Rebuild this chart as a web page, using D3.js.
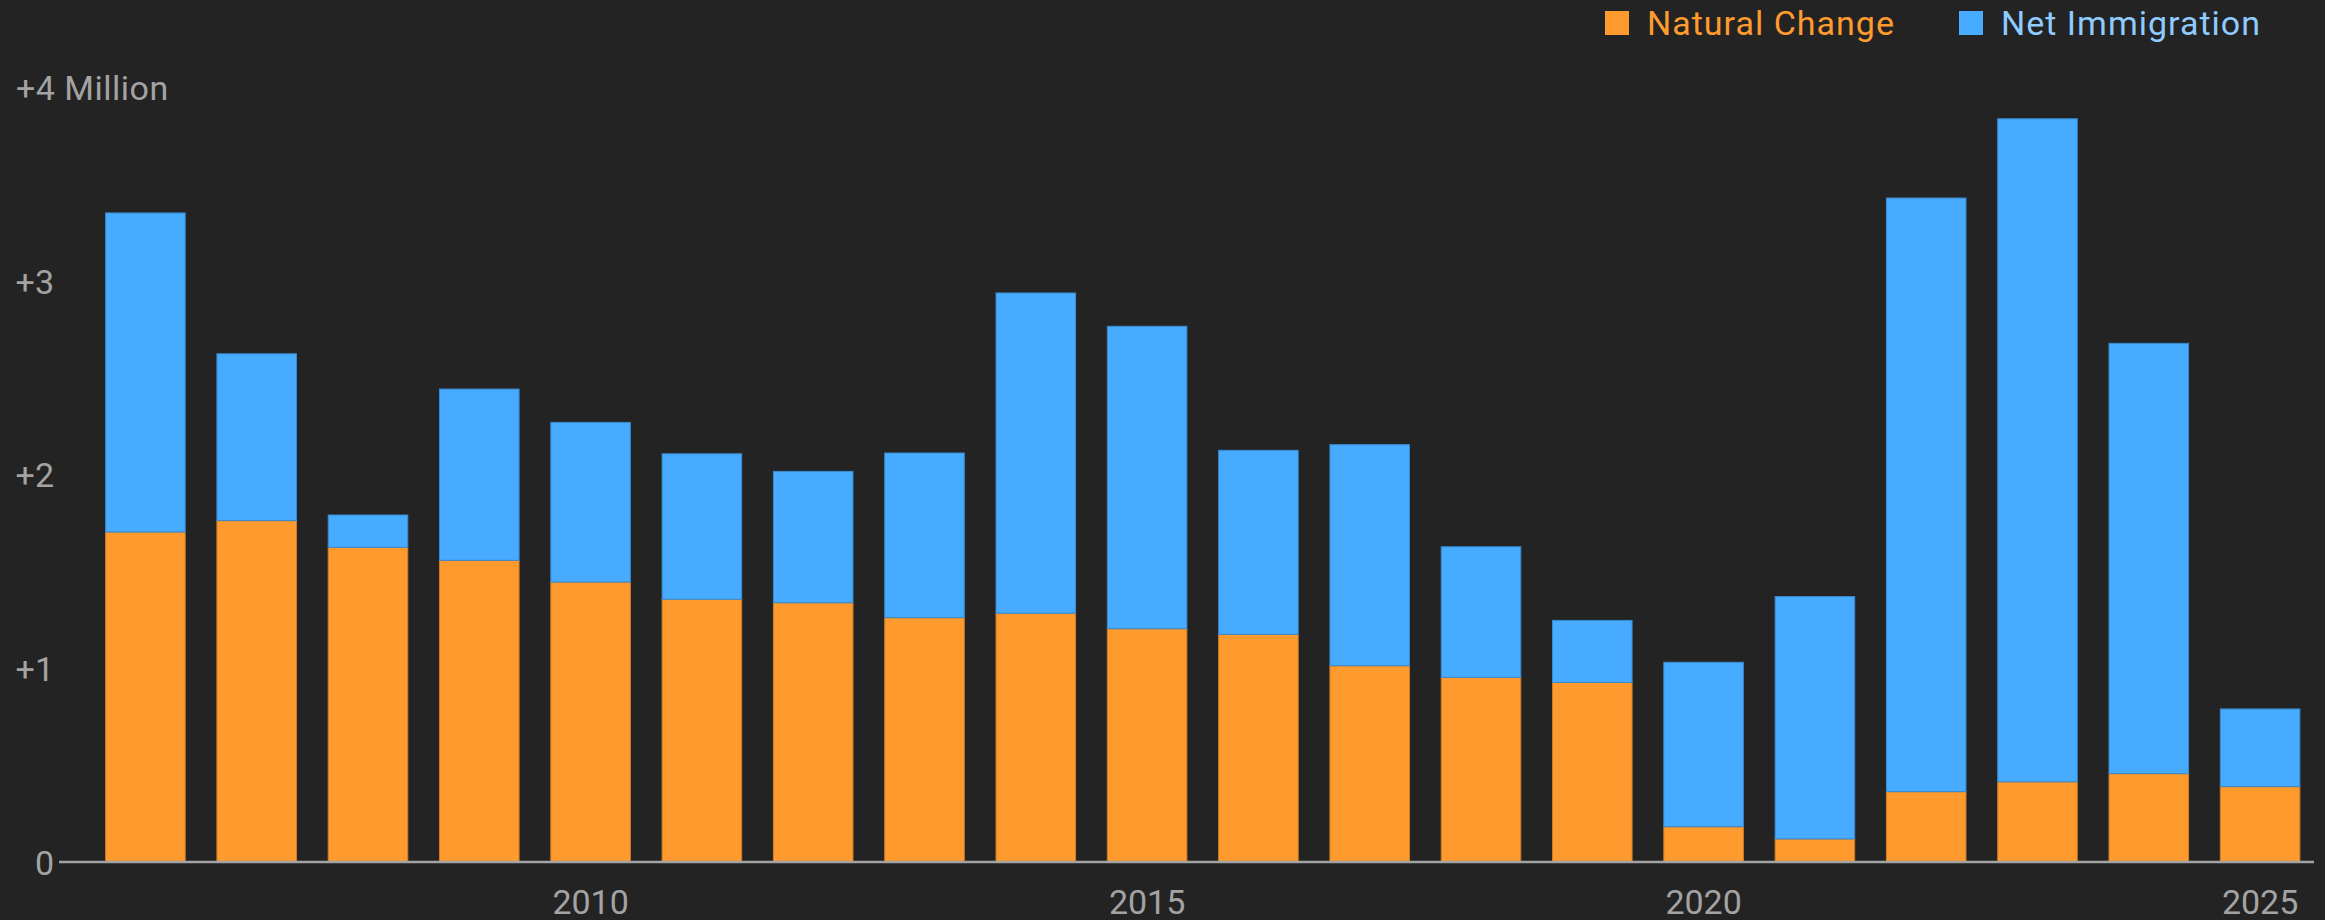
<!DOCTYPE html>
<html>
<head>
<meta charset="utf-8">
<script src="https://cdn.jsdelivr.net/npm/d3@7"></script>
<style>
  html, body { margin: 0; padding: 0; background: #232323; }
  svg { display: block; }
  text { font-family: Roboto, "Noto Sans", sans-serif; }
</style>
</head>
<body>
<div id="chart"></div>
<script>
// population growth, millions per year
const years = [2006, 2007, 2008, 2009, 2010, 2011, 2012, 2013, 2014, 2015,
               2016, 2017, 2018, 2019, 2020, 2021, 2022, 2023, 2024, 2025];
const naturalChange = [1.703, 1.762, 1.624, 1.557, 1.445, 1.356, 1.338, 1.261, 1.284, 1.204,
                       1.175, 1.013, 0.953, 0.927, 0.182, 0.119, 0.363, 0.414, 0.456, 0.389];
const netImmigration = [1.647, 0.861, 0.167, 0.884, 0.824, 0.751, 0.678, 0.850, 1.653, 1.561,
                        0.950, 1.141, 0.674, 0.320, 0.849, 1.251, 3.064, 3.422, 2.221, 0.401];
const yTicks = [0, 1, 2, 3, 4];
const xTicks = [2010, 2015, 2020, 2025];
const seriesNames = ["Natural Change", "Net Immigration"];

const width = 2325, height = 920;
const colors = { "Natural Change": "#ff9b2e", "Net Immigration": "#47abff" };
const legendText = { "Natural Change": "#ff9b2e", "Net Immigration": "#8fcbff" };
const axisGrey = "#a3a3a3";

const svg = d3.select("#chart").append("svg")
  .attr("width", width)
  .attr("height", height);

svg.append("rect").attr("width", width).attr("height", height).attr("fill", "#232323");

const x = d3.scaleBand()
  .domain(years)
  .range([89.75, 2315.75])
  .paddingInner(0.285)
  .paddingOuter(0.1425);

const y = d3.scaleLinear()
  .domain([0, 4])
  .range([862, 87]);

// stack the two series
const rows = years.map((yr, i) => ({
  year: yr,
  "Natural Change": naturalChange[i],
  "Net Immigration": netImmigration[i]
}));
const stacked = d3.stack().keys(seriesNames)(rows);

svg.append("g")
  .selectAll("g")
  .data(stacked)
  .join("g")
    .attr("fill", d => colors[d.key])
    .attr("stroke", d => d3.color(colors[d.key]).darker(0.6))
    .attr("stroke-width", 1)
  .selectAll("rect")
  .data(d => d)
  .join("rect")
    .attr("x", d => x(d.data.year))
    .attr("width", x.bandwidth())
    .attr("y", d => y(d[1]))
    .attr("height", d => y(d[0]) - y(d[1]));

// baseline
svg.append("line")
  .attr("x1", 59).attr("x2", 2314)
  .attr("y1", y(0)).attr("y2", y(0))
  .attr("stroke", axisGrey)
  .attr("stroke-width", 2.5);

// y axis labels
const yAxis = svg.append("g")
  .attr("transform", "translate(54,0)")
  .call(d3.axisLeft(y).tickValues(yTicks).tickSize(0).tickPadding(0)
    .tickFormat(d => d === 0 ? "0" : "+" + d));
yAxis.select(".domain").remove();
yAxis.selectAll("text")
  .attr("fill", axisGrey)
  .attr("font-size", 34)
  .attr("font-family", "Roboto, sans-serif")
  .attr("dy", "0.36em");
yAxis.selectAll(".tick").filter(d => d === 4).select("text")
  .attr("text-anchor", "start")
  .attr("x", -38)
  .attr("letter-spacing", 0.5)
  .text("+4 Million");

// x axis labels
const xAxis = svg.append("g")
  .attr("transform", `translate(0,${y(0)})`)
  .call(d3.axisBottom(x).tickValues(xTicks).tickSize(0).tickPadding(0));
xAxis.select(".domain").remove();
xAxis.selectAll("text")
  .attr("fill", axisGrey)
  .attr("font-size", 34)
  .attr("font-family", "Roboto, sans-serif")
  .attr("dy", null)
  .attr("y", 52);

// legend
const legendX = [1605, 1959];
const legend = svg.append("g")
  .selectAll("g")
  .data(seriesNames)
  .join("g")
    .attr("transform", (d, i) => `translate(${legendX[i]},11)`);
legend.append("rect")
  .attr("width", 24).attr("height", 24)
  .attr("fill", d => colors[d]);
legend.append("text")
  .attr("x", 42).attr("y", 24)
  .attr("fill", d => legendText[d])
  .attr("font-size", 34)
  .attr("letter-spacing", 1)
  .text(d => d);
</script>
</body>
</html>
